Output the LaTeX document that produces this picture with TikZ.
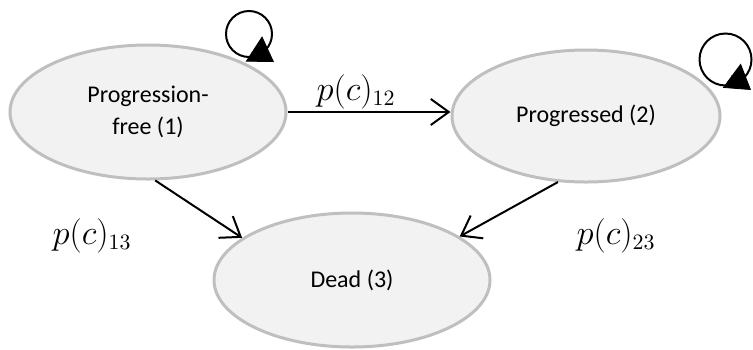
\documentclass[tikz,border=0pt]{standalone}
\usepackage{fontspec}
\setmainfont{Carlito}
\usetikzlibrary{shapes.geometric, arrows.meta, calc}
\definecolor{statefill}{RGB}{242, 242, 242}
\definecolor{stateedge}{RGB}{191, 191, 191}

\begin{document}
\begin{tikzpicture}[x=0.5pt, y=-0.5pt,
    state/.style={ellipse, draw=stateedge, fill=statefill, line width=1.5pt,
                  align=center, font=\fontsize{12}{16}\selectfont},
    trans/.style={line width=1pt, -{Straight Barb[length=9pt, width=13pt, line width=1pt]}},
    selfloop/.style={line width=1pt},
    looptip/.style={-{Triangle[length=12pt, width=15pt]}},
    prob/.style={font=\fontsize{16}{19}\selectfont}]
  \useasboundingbox (0, 0) rectangle (753, 349);

  % the three states
  \node[state, minimum width=138pt, minimum height=67pt] (free) at (148, 112) {Progression-\\free (1)};
  \node[state, minimum width=134pt, minimum height=66pt] (prog) at (586, 116) {Progressed (2)};
  \node[state, minimum width=138pt, minimum height=67pt] (dead) at (352, 280) {Dead (3)};

  % transitions
  \draw[trans] (free.east) -- (free.east -| prog.west);
  \draw[trans] (free.-84) -- (dead.159.5);
  \draw[trans] (prog.-113) -- (dead.22.5);

  \node[prob] (p12) at (356, 92) {$p(c)_{12}$};
  \node[prob] (p13) at (92, 236) {$p(c)_{13}$};
  \node[prob] (p23) at (616, 236) {$p(c)_{23}$};

  % staying in the same state
  \draw[selfloop] ($(free)+(101, -78)$) circle[radius=23];
  \draw[looptip] ($(free)+(106, -63)$) -- ($(free)+(126, -50)$);
  \draw[selfloop] ($(prog)+(139.5, -56.5)$) circle[radius=26];
  \draw[looptip] ($(prog)+(145.5, -40.5)$) -- ($(prog)+(165, -26)$);
\end{tikzpicture}
\end{document}
